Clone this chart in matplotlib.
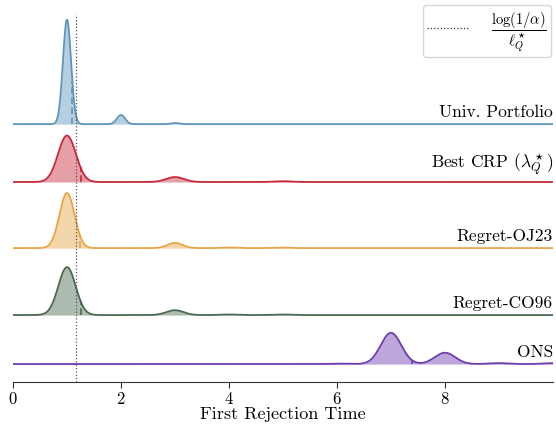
import numpy as np
import matplotlib
matplotlib.use("Agg")
import matplotlib.pyplot as plt
from matplotlib.lines import Line2D

plt.rcParams["font.family"] = "serif"
plt.rcParams["font.serif"] = ["cmr10"]
plt.rcParams["mathtext.fontset"] = "cm"
plt.rcParams["axes.formatter.use_mathtext"] = True

# share of runs that first rejected at each time step
times = [1, 2, 3, 4, 5, 6, 7, 8, 9, 10, 11]
names = ["Univ. Portfolio", r"Best CRP ($\lambda_Q^\star$)", "Regret-OJ23", "Regret-CO96", "ONS"]
shares = [
    [0.91, 0.08, 0.01, 0, 0, 0, 0, 0, 0, 0, 0],
    [0.89, 0, 0.095, 0, 0.015, 0, 0, 0, 0, 0, 0],
    [0.895, 0, 0.085, 0.01, 0.01, 0, 0, 0, 0, 0, 0],
    [0.89, 0, 0.09, 0.01, 0.01, 0, 0, 0, 0, 0, 0],
    [0, 0, 0, 0, 0, 0.01, 0.69, 0.25, 0.02, 0.02, 0.01],
]
bandwidths = [0.075, 0.165, 0.14, 0.16, 0.19]
threshold = 1.167  # log(1/alpha) / l_Q*

colors = ["#5f95bb", "#c8283c", "#e8a546", "#4b6950", "#6e3caf"]
offsets = [11.94, 9.26, 6.2, 3.1, 0.83]


def kde(grid, vals, w, bw):
    w = np.asarray(w, float)
    w = w / w.sum()
    d = grid[:, None] - np.asarray(vals, float)[None, :]
    return (w * np.exp(-0.5 * (d / bw) ** 2)).sum(axis=1) / (bw * np.sqrt(2 * np.pi))


fig = plt.figure(figsize=(5.56, 4.27), dpi=100)
ax = fig.add_axes([13 / 556, 44 / 427, 540 / 556, 368 / 427])

xs = np.linspace(0, 10, 1200)
for i in range(len(names)):
    dens = kde(xs, times, shares[i], bandwidths[i])
    base = offsets[i]
    ax.fill_between(xs, base, base + dens, color=colors[i], alpha=0.45, lw=0, zorder=2 + i)
    ax.plot(xs, base + dens, color=colors[i], lw=1.3, zorder=2 + i)
    m = np.average(times, weights=shares[i])
    hm = kde(np.array([m]), times, shares[i], bandwidths[i])[0]
    ax.plot([m, m], [base, base + hm], color=colors[i], lw=1.2, ls=(0, (4, 2)), zorder=2 + i)
    ax.text(10, base + 0.25, names[i], ha="right", va="bottom", fontsize=12.5, zorder=10)

ax.axvline(threshold, color="#555555", lw=0.9, ls=":", zorder=9)

ax.set_xlim(0, 10)
ax.set_ylim(0, 17.04)
ax.set_yticks([])
ax.set_xticks([0, 2, 4, 6, 8])
ax.tick_params(axis="x", labelsize=12, length=4, pad=1.5, color="#333333")
for s in ["top", "left", "right"]:
    ax.spines[s].set_visible(False)
ax.spines["bottom"].set_color("#333333")
ax.set_xlabel("First Rejection Time", fontsize=13, labelpad=0)
ax.patch.set_alpha(0)

handle = Line2D([], [], color="#333333", lw=0.9, ls=":")
fig.legend([handle], [r"$\dfrac{\log(1/\alpha)}{\ell_Q^\star}$"], loc="upper right",
           bbox_to_anchor=(0.997, 0.993), fontsize=10.5, frameon=True, fancybox=True,
           edgecolor="#cccccc", handlelength=2.9, borderpad=0.3, handletextpad=1.5,
           borderaxespad=0.2)

fig.savefig("out.png", dpi=100)
